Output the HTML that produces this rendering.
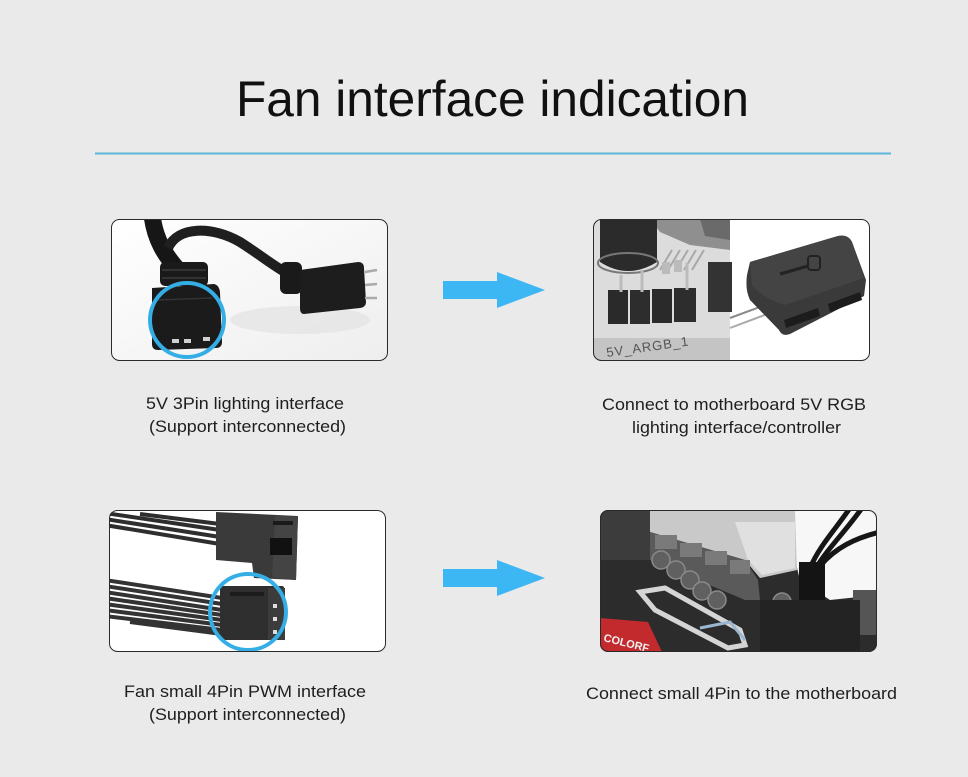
<!DOCTYPE html>
<html>
<head>
<meta charset="utf-8">
<style>
html,body{margin:0;padding:0;background:#eaeaea;}
svg{display:block;}
text{font-family:"Liberation Sans",Arial,sans-serif;fill:#1e1e1e;}
</style>
</head>
<body>
<svg width="968" height="777" viewBox="0 0 968 777" xmlns="http://www.w3.org/2000/svg">
<defs>
  <clipPath id="c1"><rect x="111" y="219" width="277" height="142" rx="8"/></clipPath>
  <clipPath id="c2"><rect x="593" y="219" width="277" height="142" rx="8"/></clipPath>
  <clipPath id="c3"><rect x="109" y="510" width="277" height="142" rx="8"/></clipPath>
  <clipPath id="c4"><rect x="600" y="510" width="277" height="142" rx="8"/></clipPath>
  <linearGradient id="g1" x1="0" y1="0" x2="1" y2="1">
    <stop offset="0" stop-color="#ffffff"/><stop offset="1" stop-color="#eeeeee"/>
  </linearGradient>
</defs>
<rect width="968" height="777" fill="#eaeaea"/>

<!-- Title -->
<text x="236" y="116" font-size="50" textLength="513" lengthAdjust="spacingAndGlyphs" style="fill:#111">Fan interface indication</text>
<line x1="95" y1="153.5" x2="891" y2="153.5" stroke="#5cb6d9" stroke-width="2"/>

<!-- Box 1 -->
<g clip-path="url(#c1)">
  <rect x="111" y="219" width="277" height="142" fill="url(#g1)"/>
  <ellipse cx="300" cy="320" rx="70" ry="14" fill="#e2e2e2" opacity="0.7"/>
  <path d="M152,215 C155,240 165,255 178,270" stroke="#161616" stroke-width="17" fill="none"/>
  <path d="M168,248 C178,226 212,226 240,242 C262,256 276,268 292,276" stroke="#1f1f1f" stroke-width="10" fill="none"/>
  <rect x="160" y="262" width="48" height="24" rx="5" fill="#1a1a1a"/>
  <line x1="162" y1="270" x2="206" y2="270" stroke="#3a3a3a" stroke-width="1.5"/>
  <line x1="162" y1="278" x2="206" y2="278" stroke="#3a3a3a" stroke-width="1.5"/>
  <path d="M152,288 L214,284 Q219,285 220,292 L222,342 Q222,348 216,348 L158,350 Q152,350 152,344 Z" fill="#1b1b1b"/>
  <line x1="158" y1="300" x2="212" y2="298" stroke="#333" stroke-width="1.5"/>
  <rect x="172" y="339" width="7" height="4" fill="#d0d0d0"/>
  <rect x="184" y="339" width="7" height="4" fill="#d0d0d0"/>
  <rect x="203" y="337" width="7" height="4" fill="#d0d0d0"/>
  <rect x="280" y="262" width="22" height="32" rx="6" fill="#1a1a1a"/>
  <path d="M300,270 L358,262 Q364,262 364,268 L366,302 Q366,307 360,308 L304,314 Q300,314 300,308 Z" fill="#1d1d1d"/>
  <line x1="365" y1="272" x2="377" y2="270" stroke="#aaa" stroke-width="2.5"/>
  <line x1="365" y1="285" x2="377" y2="284" stroke="#aaa" stroke-width="2.5"/>
  <line x1="365" y1="298" x2="377" y2="298" stroke="#aaa" stroke-width="2.5"/>
  <circle cx="187" cy="320" r="37" fill="none" stroke="#35aee6" stroke-width="4"/>
</g>
<rect x="111.5" y="219.5" width="276" height="141" rx="8" fill="none" stroke="#2a2a2a" stroke-width="1"/>

<!-- Box 2 -->
<g clip-path="url(#c2)">
  <rect x="593" y="219" width="277" height="142" fill="#ffffff"/>
  <rect x="593" y="219" width="137" height="142" fill="#dcdcdc"/>
  <path d="M650,219 L730,219 L730,250 L690,245 L660,232 Z" fill="#8f8f8f"/>
  <path d="M700,219 L730,219 L730,240 L705,236 Z" fill="#6a6a6a"/>
  <g stroke="#a8a8a8" stroke-width="2">
    <line x1="660" y1="270" x2="672" y2="250"/><line x1="668" y1="270" x2="680" y2="250"/>
    <line x1="676" y1="270" x2="688" y2="250"/><line x1="684" y1="270" x2="696" y2="250"/>
    <line x1="692" y1="270" x2="704" y2="250"/>
  </g>
  <rect x="593" y="338" width="137" height="23" fill="#c4c4c4"/>
  <path d="M600,219 L657,219 L657,262 Q628,280 600,262 Z" fill="#2b2b2b"/>
  <ellipse cx="628" cy="263" rx="30" ry="10" fill="none" stroke="#777" stroke-width="2"/>
  <rect x="662" y="262" width="8" height="12" fill="#bbb"/>
  <rect x="674" y="260" width="8" height="12" fill="#bbb"/>
  <rect x="608" y="290" width="20" height="34" fill="#2a2a2a"/>
  <rect x="630" y="290" width="20" height="34" fill="#2d2d2d"/>
  <rect x="652" y="289" width="20" height="34" fill="#2a2a2a"/>
  <rect x="674" y="288" width="22" height="34" fill="#2d2d2d"/>
  <line x1="621" y1="275" x2="621" y2="292" stroke="#bbb" stroke-width="3"/>
  <line x1="642" y1="270" x2="642" y2="292" stroke="#bbb" stroke-width="3"/>
  <line x1="687" y1="263" x2="687" y2="290" stroke="#bbb" stroke-width="3"/>
  <rect x="708" y="262" width="24" height="50" fill="#333"/>
  <text x="607" y="357" font-size="13" transform="rotate(-8 607 357)" style="fill:#555;letter-spacing:1px">5V_ARGB_1</text>
  <line x1="730" y1="318" x2="768" y2="304" stroke="#8a8a8a" stroke-width="2"/>
  <line x1="730" y1="328" x2="770" y2="313" stroke="#aaa" stroke-width="2"/>
  <path d="M750,262 L838,236 Q848,234 852,242 L866,280 L864,296 L790,334 Q782,337 779,330 L750,300 Q745,290 747,275 Z" fill="#3a3a3a"/>
  <path d="M750,262 L838,236 Q848,234 852,242 L864,278 L785,305 Q765,300 752,285 Z" fill="#444"/>
  <rect x="808" y="256" width="12" height="14" rx="3" fill="none" stroke="#222" stroke-width="2"/>
  <line x1="808" y1="266" x2="780" y2="274" stroke="#222" stroke-width="3"/>
  <path d="M784,320 L818,308 L820,316 L786,328 Z" fill="#1c1c1c"/>
  <path d="M828,304 L860,292 L862,300 L830,312 Z" fill="#1c1c1c"/>
</g>
<rect x="593.5" y="219.5" width="276" height="141" rx="8" fill="none" stroke="#2a2a2a" stroke-width="1"/>

<!-- Arrows -->
<polygon points="443,281 497,281 497,272 545,290 497,308 497,299 443,299" fill="#3db6f4"/>
<polygon points="443,569 497,569 497,560 545,578 497,596 497,587 443,587" fill="#3db6f4"/>

<!-- Labels top -->
<text x="146" y="409" font-size="17" textLength="198" lengthAdjust="spacingAndGlyphs">5V 3Pin lighting interface</text>
<text x="149" y="432" font-size="17" textLength="197" lengthAdjust="spacingAndGlyphs">(Support interconnected)</text>
<text x="602" y="410" font-size="17" textLength="264" lengthAdjust="spacingAndGlyphs">Connect to motherboard 5V RGB</text>
<text x="632" y="433" font-size="17" textLength="209" lengthAdjust="spacingAndGlyphs">lighting interface/controller</text>

<!-- Box 3 -->
<g clip-path="url(#c3)">
  <rect x="109" y="510" width="277" height="142" fill="#ffffff"/>
  <g stroke="#2e2e2e" stroke-width="4" fill="none">
    <path d="M105,513 L220,530"/><path d="M105,519 L220,537"/><path d="M105,525 L220,544"/>
    <path d="M140,514 L220,524"/>
  </g>
  <path d="M216,512 L298,516 L296,580 L254,578 L252,563 L216,560 Z" fill="#3a3a3a"/>
  <path d="M275,516 L298,516 L296,580 L272,578 Z" fill="#444"/>
  <rect x="273" y="521" width="20" height="4" fill="#1a1a1a"/>
  <rect x="270" y="538" width="22" height="17" fill="#111"/>
  <g stroke="#333" stroke-width="4" fill="none">
    <path d="M105,580 L222,598"/><path d="M105,586 L222,604"/><path d="M105,592 L222,610"/>
    <path d="M105,598 L222,615"/><path d="M105,604 L222,620"/><path d="M105,610 L222,625"/>
    <path d="M105,616 L222,630"/><path d="M130,622 L222,634"/>
  </g>
  <rect x="220" y="586" width="64" height="54" rx="2" fill="#2f2f2f"/>
  <rect x="268" y="588" width="17" height="52" fill="#3c3c3c"/>
  <rect x="230" y="592" width="34" height="4" fill="#1c1c1c"/>
  <rect x="273" y="604" width="4" height="4" fill="#ddd"/>
  <rect x="273" y="617" width="4" height="4" fill="#ddd"/>
  <rect x="273" y="630" width="4" height="4" fill="#ddd"/>
  <circle cx="248" cy="612" r="38" fill="none" stroke="#35aee6" stroke-width="4"/>
</g>
<rect x="109.5" y="510.5" width="276" height="141" rx="8" fill="none" stroke="#2a2a2a" stroke-width="1"/>

<!-- Box 4 -->
<g clip-path="url(#c4)">
  <rect x="600" y="510" width="277" height="142" fill="#2c2c2c"/>
  <rect x="600" y="510" width="60" height="50" fill="#3c3c3c"/>
  <path d="M795,510 L877,510 L877,595 L830,600 L800,580 L795,560 Z" fill="#f7f7f7"/>
  <path d="M650,510 L795,510 L797,570 L760,578 L745,560 L650,532 Z" fill="#c9c9c9"/>
  <path d="M735,522 L795,522 L795,568 L762,575 L748,560 Z" fill="#e0e0e0"/>
  <path d="M650,532 L745,560 L758,580 L760,600 L745,600 L650,560 Z" fill="#5a5a5a"/>
  <g fill="#7a7a7a">
    <rect x="655" y="535" width="22" height="14"/><rect x="680" y="543" width="22" height="14"/>
    <rect x="705" y="551" width="22" height="14"/><rect x="730" y="560" width="20" height="14"/>
  </g>
  <g fill="#606060" stroke="#8a8a8a" stroke-width="1.5">
    <circle cx="661" cy="560" r="9"/><circle cx="676" cy="570" r="9"/><circle cx="690" cy="580" r="9"/>
    <circle cx="702" cy="591" r="9"/><circle cx="717" cy="600" r="9"/>
    <circle cx="782" cy="602" r="9"/>
  </g>
  <path d="M640,592 L665,588 L740,630 L745,645 L728,648 L655,610 Z" fill="none" stroke="#d5d5d5" stroke-width="5"/>
  <path d="M700,628 L730,622 L745,640" fill="none" stroke="#9bb6d0" stroke-width="3"/>
  <path d="M600,618 L648,622 L662,652 L600,652 Z" fill="#c22a2e"/>
  <text x="603" y="641" font-size="11" transform="rotate(14 603 641)" style="fill:#f2f2f2;font-weight:bold">COLORF</text>
  <g stroke="#161616" stroke-width="5" fill="none">
    <path d="M850,508 C835,530 820,545 810,568"/>
    <path d="M862,508 C845,532 828,548 816,568"/>
    <path d="M880,532 C855,538 835,548 820,566"/>
  </g>
  <rect x="799" y="562" width="26" height="60" fill="#141414"/>
  <rect x="853" y="590" width="24" height="45" fill="#555"/>
  <rect x="760" y="600" width="100" height="52" fill="#232323"/>
</g>
<rect x="600.5" y="510.5" width="276" height="141" rx="8" fill="none" stroke="#2a2a2a" stroke-width="1"/>

<!-- Labels bottom -->
<text x="124" y="697" font-size="17" textLength="242" lengthAdjust="spacingAndGlyphs">Fan small 4Pin PWM interface</text>
<text x="149" y="720" font-size="17" textLength="197" lengthAdjust="spacingAndGlyphs">(Support interconnected)</text>
<text x="586" y="699" font-size="17" textLength="311" lengthAdjust="spacingAndGlyphs">Connect small 4Pin to the motherboard</text>
</svg>
</body>
</html>
